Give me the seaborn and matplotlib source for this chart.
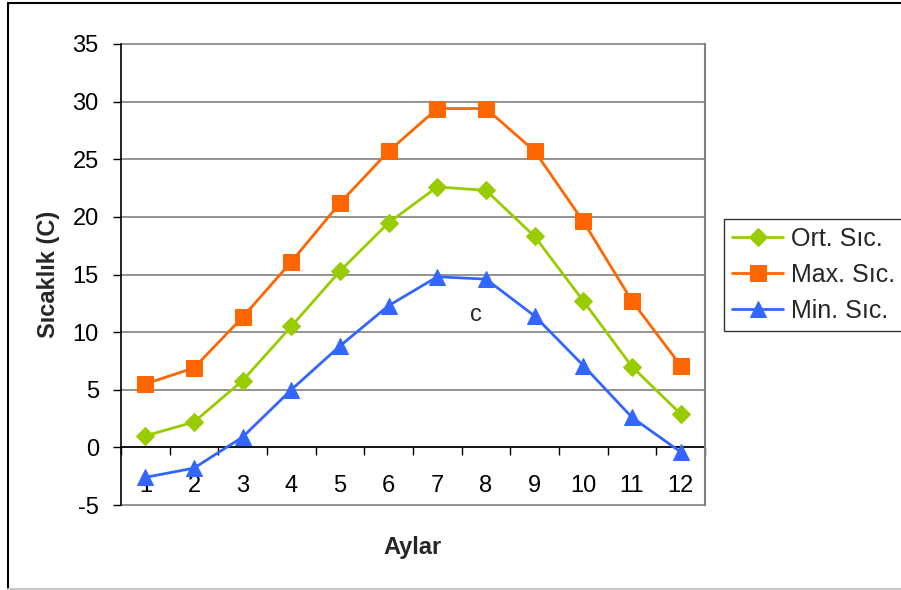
import matplotlib
matplotlib.use("Agg")
import matplotlib.pyplot as plt
from matplotlib.lines import Line2D
from matplotlib.ticker import MultipleLocator, FixedLocator
import seaborn as sns
import pandas as pd

# Monthly temperature values (°C)
months = [1, 2, 3, 4, 5, 6, 7, 8, 9, 10, 11, 12]
ort_sic = [1.0, 2.2, 5.8, 10.5, 15.3, 19.5, 22.6, 22.3, 18.3, 12.7, 7.0, 2.9]
max_sic = [5.5, 6.9, 11.3, 16.1, 21.2, 25.7, 29.4, 29.4, 25.7, 19.6, 12.7, 7.1]
min_sic = [-2.6, -1.8, 0.9, 5.0, 8.8, 12.3, 14.8, 14.6, 11.4, 7.1, 2.6, -0.4]
series_names = ["Ort. Sıc.", "Max. Sıc.", "Min. Sıc."]
series_colors = ["#99CC00", "#FF6600", "#3366FF"]
series_markers = ["D", "s", "^"]
marker_sizes = [9, 11, 11]

sns.set_theme(style="white")
plt.rcParams["font.family"] = ["Liberation Sans", "DejaVu Sans"]
plt.rcParams["axes.unicode_minus"] = False

fig = plt.figure(figsize=(9.01, 5.90), dpi=100)
ax = fig.add_axes([121 / 901, 1 - 505 / 590, 584 / 901, 461 / 590])

df = pd.DataFrame({"Ay": months, series_names[0]: ort_sic,
                   series_names[1]: max_sic, series_names[2]: min_sic})

for name, col, mk, ms in zip(series_names, series_colors, series_markers, marker_sizes):
    sns.lineplot(data=df, x="Ay", y=name, ax=ax, color=col, marker=mk,
                 markersize=ms, markeredgecolor=col, linewidth=2,
                 label=name, zorder=3)

ax.set_xlim(0.5, 12.5)
ax.set_ylim(-5, 35)

# horizontal grid lines
ax.yaxis.set_major_locator(MultipleLocator(5))
for yv in range(-5, 40, 5):
    ax.axhline(yv, color="#808080", lw=1.2, zorder=1, clip_on=False)

# spines: black left axis, x axis at zero, gray frame on right
ax.spines["top"].set_visible(False)
ax.spines["right"].set_color("#808080")
ax.spines["right"].set_linewidth(1.5)
ax.spines["left"].set_color("black")
ax.spines["left"].set_linewidth(1.2)
ax.spines["bottom"].set_position(("data", 0))
ax.spines["bottom"].set_color("black")
ax.spines["bottom"].set_linewidth(1.2)
ax.spines["bottom"].set_zorder(2)

ax.xaxis.set_major_locator(FixedLocator(months))
ax.set_xticklabels([str(m) for m in months])
ax.xaxis.set_minor_locator(FixedLocator([m + 0.5 for m in [0] + months]))
ax.tick_params(axis="x", which="major", length=0, pad=20, labelsize=17, colors="black")
ax.tick_params(axis="x", which="minor", direction="out", length=6, width=1, color="black", bottom=True)
ax.tick_params(axis="y", which="major", direction="out", length=6, width=1, pad=10,
               labelsize=17, color="black", left=True, labelcolor="black")

ax.set_xlabel("Aylar", fontsize=17, fontweight="bold", va="center")
ax.xaxis.set_label_coords(0.5, -0.093)
ax.set_ylabel("Sıcaklık (C)", fontsize=17, fontweight="bold", va="center")
ax.yaxis.set_label_coords(-0.124, 0.5)

ax.text(7.8, 11.5, "c", fontsize=17, ha="center", va="center")

leg = ax.legend(loc="upper left", bbox_to_anchor=(724 / 901, 1 - 219 / 590),
                bbox_transform=fig.transFigure, borderaxespad=0, frameon=True,
                fancybox=False, edgecolor="black", fontsize=18, handlelength=2.05,
                labelspacing=0.48, borderpad=0.32, handletextpad=0.3, markerscale=1.05)
leg.get_frame().set_linewidth(1.0)

# outer chart frame
fig.add_artist(Line2D([8 / 901, 8 / 901], [1 / 590, 1 - 3 / 590], color="black", lw=1.5,
                      transform=fig.transFigure))
fig.add_artist(Line2D([8 / 901, 1.0], [1 - 3 / 590, 1 - 3 / 590], color="black", lw=1.5,
                      transform=fig.transFigure))
fig.add_artist(Line2D([8 / 901, 1.0], [1 / 590, 1 / 590], color="#c8c8c8", lw=1.5,
                      transform=fig.transFigure))

fig.savefig("out.png", dpi=100)
